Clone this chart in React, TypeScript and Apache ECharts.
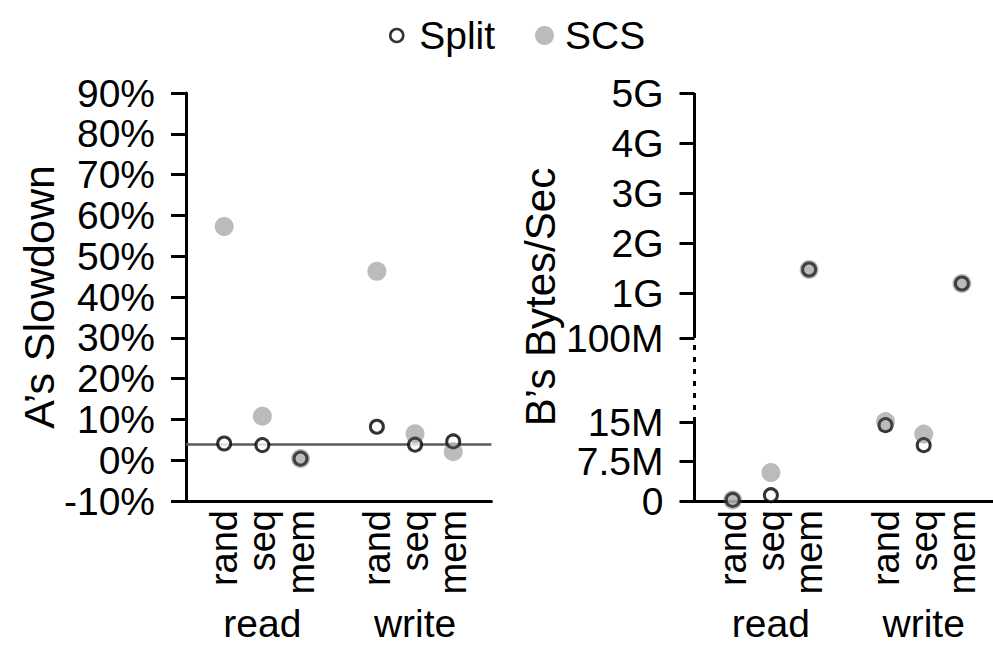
import React, { useEffect, useRef } from 'react';
import * as echarts from 'echarts';

// Workload layout: two operation groups, three access kinds each
const groups = ['read', 'write'];
const kinds = ['rand', 'seq', 'mem'];

// A's slowdown (%) for read rand/seq/mem, write rand/seq/mem
const splitSlowdown = [4.1, 3.7, 0.4, 8.2, 3.8, 4.6];
const scsSlowdown = [57.3, 10.8, 0.4, 46.3, 6.5, 2.1];
const baselineSlowdown = 3.9;

// B's throughput (bytes/sec) for the same workloads
const splitBytes = [0.2e6, 1.1e6, 1.47e9, 14.4e6, 10.6e6, 1.19e9];
const scsBytes = [0.2e6, 5.4e6, 1.47e9, 15.4e6, 12.7e6, 1.19e9];

// Broken throughput axis ticks
const byteTicks = [0, 7.5e6, 15e6, 100e6, 1e9, 2e9, 3e9, 4e9, 5e9];
const byteTickLabels = ['0', '7.5M', '15M', '100M', '1G', '2G', '3G', '4G', '5G'];

// Piecewise scale: linear 0..15M, a broken gap, then linear 100M..5G
const LOW_MAX = 15e6;
const HIGH_MIN = 100e6;
const LOW_SPAN = 79;
const BREAK_SPAN = 84;
const HIGH_PER_G = 50;
function byteScale(v: number): number {
  if (v <= LOW_MAX) return (v / LOW_MAX) * LOW_SPAN;
  if (v < HIGH_MIN) return LOW_SPAN + ((v - LOW_MAX) / (HIGH_MIN - LOW_MAX)) * BREAK_SPAN;
  return LOW_SPAN + BREAK_SPAN + ((v - HIGH_MIN) / 1e9) * HIGH_PER_G;
}
const byteAxisMax = byteScale(byteTicks[byteTicks.length - 1]);

const slot = kinds.length + 1;
const positions = groups.flatMap((_, gi) => kinds.map((_, ki) => gi * slot + ki + 1));
const groupCenters = groups.map((_, gi) => gi * slot + 2);
const axisSpan = groups.length * slot;

const FONT = 'Liberation Sans, Arial, Helvetica, sans-serif';
const SCS_COLOR = 'rgba(85,85,85,0.5)';

function kindLabel(v: number): string {
  const i = positions.findIndex((p) => Math.abs(p - v) < 1e-6);
  return i >= 0 ? kinds[i % kinds.length] : '';
}
function groupLabel(v: number): string {
  const i = groupCenters.findIndex((p) => Math.abs(p - v) < 1e-6);
  return i >= 0 ? groups[i] : '';
}
function byteLabel(v: number): string {
  const i = byteTicks.findIndex((t) => Math.abs(byteScale(t) - v) < 1e-3);
  return i >= 0 ? byteTickLabels[i] : '';
}

export default function App() {
  const ref = useRef<HTMLDivElement>(null);

  useEffect(() => {
    if (!ref.current) return;
    const chart = echarts.init(ref.current, undefined, { renderer: 'svg' });

    const axisLine = { show: true, onZero: false, lineStyle: { color: '#000', width: 3 } };
    const yTick = { show: true, length: 15, lineStyle: { color: '#000', width: 3 } };
    const tickFont = { color: '#000', fontSize: 39, fontFamily: FONT };

    const kindAxis = (gridIndex: number) => ({
      type: 'value',
      gridIndex,
      min: 0,
      max: axisSpan,
      position: 'bottom',
      axisLine,
      axisTick: { show: false },
      splitLine: { show: false },
      axisLabel: {
        customValues: positions,
        formatter: (v: number) => kindLabel(v),
        rotate: 90,
        margin: 9,
        lineHeight: 28,
        showMinLabel: true,
        showMaxLabel: true,
        hideOverlap: false,
        color: '#000',
        fontSize: 38,
        fontFamily: FONT,
      },
    });
    const groupAxis = (gridIndex: number) => ({
      type: 'value',
      gridIndex,
      min: 0,
      max: axisSpan,
      position: 'bottom',
      axisLine: { show: false, onZero: false },
      axisTick: { show: false },
      splitLine: { show: false },
      axisLabel: {
        customValues: groupCenters,
        formatter: (v: number) => groupLabel(v),
        margin: 103,
        showMinLabel: true,
        showMaxLabel: true,
        color: '#000',
        fontSize: 39,
        fontFamily: FONT,
      },
    });

    const option: any = {
      animation: false,
      backgroundColor: '#fff',
      textStyle: { fontFamily: FONT },
      legend: [
        {
          data: [{ name: 'Split', icon: 'circle' }],
          left: 384,
          top: 11,
          itemWidth: 13,
          itemHeight: 13,
          itemStyle: { color: '#fff', borderColor: '#000', borderWidth: 2.5 },
          textStyle: { color: '#000', fontSize: 39, fontFamily: FONT, padding: [0, 0, 0, 11] },
          selectedMode: false,
        },
        {
          data: [{ name: 'SCS', icon: 'circle' }],
          left: 530,
          top: 11,
          itemWidth: 19,
          itemHeight: 19,
          textStyle: { color: '#000', fontSize: 39, fontFamily: FONT, padding: [0, 0, 0, 6] },
          selectedMode: false,
        },
      ],
      grid: [
        { left: 186, top: 93, width: 305.4, height: 408, outerBoundsMode: 'none' },
        { left: 694.5, top: 93, width: 305.6, height: 408, outerBoundsMode: 'none' },
      ],
      xAxis: [kindAxis(0), groupAxis(0), kindAxis(1), groupAxis(1)],
      yAxis: [
        {
          type: 'value',
          gridIndex: 0,
          min: -10,
          max: 90,
          interval: 10,
          axisLine,
          axisTick: yTick,
          splitLine: { show: false },
          axisLabel: { formatter: '{value}%', margin: 31, ...tickFont },
          name: 'A’s Slowdown',
          nameLocation: 'middle',
          nameRotate: 90,
          nameGap: 124,
          nameTextStyle: { color: '#000', fontSize: 43, fontFamily: FONT },
        },
        {
          type: 'value',
          gridIndex: 1,
          min: 0,
          max: byteAxisMax,
          axisLine: { show: false },
          axisTick: { ...yTick, customValues: byteTicks.map(byteScale) },
          splitLine: { show: false },
          axisLabel: {
            customValues: byteTicks.map(byteScale),
            formatter: (v: number) => byteLabel(v),
            margin: 31,
            ...tickFont,
          },
          name: 'B’s Bytes/Sec',
          nameLocation: 'middle',
          nameRotate: 90,
          nameGap: 133,
          nameTextStyle: { color: '#000', fontSize: 42, fontFamily: FONT },
        },
      ],
      series: [
        // left panel
        {
          name: 'Split',
          type: 'scatter',
          xAxisIndex: 0,
          yAxisIndex: 0,
          symbol: 'circle',
          symbolSize: 13,
          itemStyle: { color: '#fff', borderColor: '#000', borderWidth: 3 },
          data: splitSlowdown.map((v, i) => [positions[i], v]),
          markLine: {
            silent: true,
            symbol: 'none',
            label: { show: false },
            lineStyle: { color: '#5a5a5a', width: 2.5, type: 'solid' },
            data: [{ yAxis: baselineSlowdown }],
            z: 1,
          },
          z: 3,
        },
        {
          name: 'SCS',
          type: 'scatter',
          xAxisIndex: 0,
          yAxisIndex: 0,
          symbol: 'circle',
          symbolSize: 19,
          itemStyle: { color: SCS_COLOR },
          data: scsSlowdown.map((v, i) => [positions[i], v]),
          z: 4,
        },
        // right panel: broken axis line (solid, dotted gap, solid)
        {
          type: 'line',
          xAxisIndex: 2,
          yAxisIndex: 1,
          symbol: 'none',
          silent: true,
          clip: false,
          lineStyle: { color: '#000', width: 3, cap: 'butt' },
          data: [[0, 0], [0, byteScale(LOW_MAX)]],
          z: 2,
        },
        {
          type: 'line',
          xAxisIndex: 2,
          yAxisIndex: 1,
          symbol: 'none',
          silent: true,
          clip: false,
          lineStyle: { color: '#000', width: 3, type: [5, 7], cap: 'butt' },
          data: [[0, byteScale(LOW_MAX)], [0, byteScale(HIGH_MIN)]],
          z: 2,
        },
        {
          type: 'line',
          xAxisIndex: 2,
          yAxisIndex: 1,
          symbol: 'none',
          silent: true,
          clip: false,
          lineStyle: { color: '#000', width: 3, cap: 'butt' },
          data: [[0, byteScale(HIGH_MIN)], [0, byteAxisMax]],
          z: 2,
        },
        {
          name: 'Split',
          type: 'scatter',
          xAxisIndex: 2,
          yAxisIndex: 1,
          symbol: 'circle',
          symbolSize: 13,
          clip: false,
          itemStyle: { color: '#fff', borderColor: '#000', borderWidth: 3 },
          data: splitBytes.map((v, i) => [positions[i], byteScale(v)]),
          z: 3,
        },
        {
          name: 'SCS',
          type: 'scatter',
          xAxisIndex: 2,
          yAxisIndex: 1,
          symbol: 'circle',
          symbolSize: 19,
          clip: false,
          itemStyle: { color: SCS_COLOR },
          data: scsBytes.map((v, i) => [positions[i], byteScale(v)]),
          z: 4,
        },
      ],
    };

    chart.setOption(option);
    return () => chart.dispose();
  }, []);

  return (
    <div
      ref={ref}
      style={{ position: 'absolute', left: 0, top: 0, width: 993, height: 646, background: '#fff' }}
    />
  );
}
